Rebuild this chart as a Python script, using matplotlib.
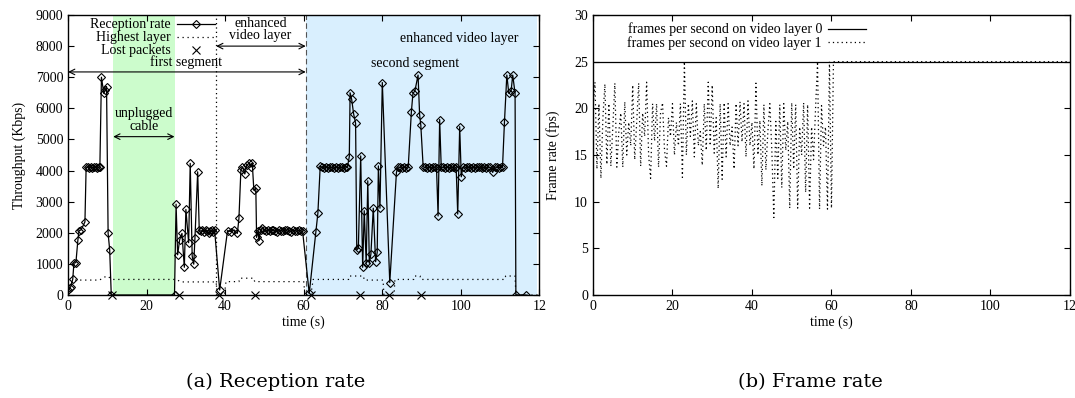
import matplotlib
matplotlib.use("Agg")
import matplotlib.pyplot as plt

plt.rcParams['font.family'] = ['Liberation Serif', 'DejaVu Serif']

# --- (a) reception rate data (Kbps) ---
rx_t = [0, 0.4, 0.7, 1.2, 1.5, 2.0, 2.5, 2.8, 3.3, 4.3,
        4.6, 5.0, 5.4, 5.8, 6.2, 6.6, 7.0, 7.4, 7.8, 8.1,
        8.5, 9.1, 9.5, 9.8, 10.2, 10.6, 11.0,
        27.1, 27.5, 27.9, 28.4, 29.0, 29.6, 30.0, 30.7, 31.1, 31.6, 32.0, 32.3, 33.0,
        33.4, 33.8, 34.2, 34.6, 35.0, 35.4, 35.8, 36.2, 36.6, 37.0, 37.3,
        38.6,
        40.6, 41.4, 42.3, 43.1, 43.5, 44.0, 44.4, 45.0, 45.5, 46.1, 46.5, 46.9, 47.3, 47.8, 48.0, 48.4, 48.6,
        49.0, 49.4, 49.8, 50.3, 50.8, 51.3, 51.8, 52.3, 52.8, 53.3, 53.8, 54.3, 54.8, 55.3, 55.8, 56.3,
        56.8, 57.3, 57.8, 58.3, 58.8, 59.3, 59.7,
        61.4,
        63.1, 63.6, 64.2,
        64.7, 65.2, 65.7, 66.2, 66.7, 67.2, 67.7, 68.2, 68.7, 69.2, 69.7, 70.2, 70.7, 71.1,
        71.6, 71.8, 72.2, 72.7, 73.2, 73.5, 73.9, 74.5, 75.0, 75.4, 75.9, 76.3, 76.7, 77.1, 77.7,
        78.3, 78.7, 79.0, 79.4, 80.0,
        81.9,
        83.6, 84.0, 84.5, 85.0, 85.5, 86.0, 86.6, 87.4, 87.8, 88.3, 89.1, 89.5, 89.8,
        90.4, 90.9, 91.4, 91.9, 92.4, 92.9, 93.4, 93.8, 94.2, 94.6,
        95.0, 95.5, 96.0, 96.5, 97.0, 97.5, 98.0, 98.5, 98.8, 99.2, 99.7, 100.1,
        100.5, 101.0, 101.5, 102.0, 102.5, 103.0, 103.5, 104.0, 104.5, 105.0, 105.5, 106.0, 106.5, 107.0, 107.5,
        108.1, 108.6, 109.1, 109.6, 110.1, 110.6,
        111.1, 111.7, 112.2, 112.8, 113.2, 113.8, 114.0, 116.5]
rx_v = [150, 220, 270, 510, 1030, 1040, 1760, 2070, 2090, 2350,
        4100, 4120, 4080, 4110, 4090, 4100, 4120, 4080, 4100, 4120,
        7000, 6480, 6600, 6700, 1980, 1450, 0,
        0, 2920, 1290, 1770, 1980, 890, 2750, 1680, 4230, 1250, 990, 1820, 3960,
        2090, 2050, 2080, 2040, 2090, 2050, 1980, 2060, 2080, 2040, 2100,
        160,
        2070, 2040, 2090, 1980, 2460, 4020, 4120, 3890, 4180, 4230, 4120, 4230, 3370, 3430, 1850, 2070, 1750,
        2080, 2150, 2100, 2060, 2090, 2050, 2080, 2100, 2060, 2040, 2090, 2070, 2050, 2080, 2100, 2060,
        2040, 2090, 2070, 2050, 2080, 2060, 2060,
        50,
        2040, 2630, 4150,
        4100, 4080, 4120, 4090, 4110, 4100, 4080, 4120, 4090, 4100, 4110, 4080, 4120, 4100,
        4450, 6500, 6290, 5820, 5520, 1450, 1500, 4470, 890, 2710, 1020, 3670, 1020, 1320, 2790,
        1070, 1370, 4150, 2790, 6830,
        400,
        3940, 4120, 4100, 4080, 4110, 4090, 4120, 5890, 6480, 6560, 7070, 5790, 5460,
        4120, 4100, 4080, 4110, 4090, 4100, 4120, 4080, 2540, 5640,
        4100, 4110, 4080, 4120, 4090, 4100, 4110, 4080, 4100, 2600, 5410, 3800,
        4100, 4080, 4110, 4120, 4090, 4100, 4080, 4110, 4100, 4120, 4090, 4100, 4080, 4110, 4100,
        3940, 4100, 4120, 4090, 4100, 4110,
        5570, 7070, 6480, 6570, 7070, 6480, 0, 0]

hl_t = [0, 1.5, 8.0, 9.8, 11.5, 27.5, 28.8, 37.7, 38.0, 39.8, 40.2, 43.5, 43.7, 47.3, 47.5,
        60.0, 60.3, 61.8, 62.4, 71.4, 71.6, 75.2, 75.4, 80.2, 80.4, 83.0, 83.2, 88.0, 88.2, 89.6,
        89.8, 111.2, 111.4, 113.8, 114.0, 120]
hl_v = [270, 480, 480, 610, 500, 500, 420, 420, 0, 0, 430, 430, 540, 540, 430,
        430, 0, 0, 500, 500, 610, 610, 480, 480, 0, 0, 500, 500, 610, 610,
        500, 500, 610, 610, 0, 0]

lost_t = [11.2, 28.2, 38.4, 47.6, 61.8, 74.4, 81.6, 89.9]
lost_v = [0, 0, 0, 0, 0, 0, 0, 0]

# --- (b) frame rate data (fps) ---
fps0_t = [0, 120]
fps0_v = [25, 25]
fps1_t = [0, 0.5, 1, 1.5, 2, 2.5, 3, 3.5, 4, 4.5,
          5, 5.5, 6, 6.5, 7, 7.5, 8, 8.5, 9, 9.5,
          10, 10.5, 11, 11.5, 12, 12.5, 13, 13.5, 14, 14.5,
          15, 15.5, 16, 16.5, 17, 17.5, 18, 18.5, 19, 19.5,
          20, 20.5, 21, 21.5, 22, 22.5, 23, 23.5, 24, 24.5,
          25, 25.5, 26, 26.5, 27, 27.5, 28, 28.5, 29, 29.5,
          30, 30.5, 31, 31.5, 32, 32.5, 33, 33.5, 34, 34.5,
          35, 35.5, 36, 36.5, 37, 37.5, 38, 38.5, 39, 39.5,
          40, 40.5, 41, 41.5, 42, 42.5, 43, 43.5, 44, 44.5,
          45, 45.5, 46, 46.5, 47, 47.5, 48, 48.5, 49, 49.5,
          50, 50.5, 51, 51.5, 52, 52.5, 53, 53.5, 54, 54.5,
          55, 55.5, 56, 56.5, 57, 57.5, 58, 58.5, 59, 59.5,
          60, 60.5, 120]
fps1_v = [20, 22.8, 13.5, 20.5, 12.5, 19, 22.6, 14, 20.5, 13.8,
          18, 22.7, 13.7, 17.5, 19.5, 13.7, 20.7, 15, 18.5, 16,
          22.5, 14.5, 18.5, 22.7, 13.8, 19.5, 17, 22.8, 15, 12.5,
          20.5, 16.5, 20.5, 13.7, 19.5, 20.6, 15.5, 13.8, 19, 17,
          20.5, 15, 18.5, 16, 20.5, 12.6, 25, 15, 20.5, 17,
          20.8, 14.8, 20.5, 16, 17.5, 13.9, 20.5, 15.5, 22.8, 16,
          22.5, 15.2, 19, 11.4, 20.5, 12.4, 20.6, 14.8, 20.5, 16,
          18, 13.5, 20.5, 16, 20.7, 16.4, 20.5, 14.8, 20.8, 16,
          18.5, 13.5, 22.7, 15, 18.7, 11.7, 20.4, 13.4, 17.5, 20.5,
          15.5, 8.3, 18.6, 12.5, 20.4, 11.5, 20.5, 15.5, 18.6, 9.3,
          20.6, 13.5, 20.4, 9.3, 18, 15, 20.6, 11, 20.4, 9.3,
          18, 14.5, 20, 25, 9.2, 20.3, 16, 18, 9.2, 25,
          9.3, 25, 25]

xticks = [0, 20, 40, 60, 80, 100, 120]
xticklabels = ['0', '20', '40', '60', '80', '100', '12']

FS = 10

fig = plt.figure(figsize=(10.75, 3.98), dpi=100)
ax1 = fig.add_axes([0.0633, 0.2588, 0.4385, 0.7035])
ax2 = fig.add_axes([0.5516, 0.2588, 0.4437, 0.7035])

for ax in (ax1, ax2):
    ax.set_xlim(0, 120)
    ax.set_xticks(xticks)
    ax.set_xticklabels(xticklabels)
    ax.tick_params(direction='in', length=4.5, width=0.8, top=True, right=True,
                   labelsize=FS, pad=3.5)
    for s in ax.spines.values():
        s.set_linewidth(1.0)
    ax.set_xlabel('time (s)', fontsize=FS, labelpad=2)

# (a)
ax1.set_ylim(0, 9000)
ax1.set_yticks(range(0, 9001, 1000))
ax1.axvspan(11.5, 27.1, color='#ccfccc', lw=0, zorder=0)
ax1.axvspan(60.5, 119.4, color='#d9effe', lw=0, zorder=0)
ax1.axvline(37.7, color='black', ls=(0, (1, 2.5)), lw=0.9)
ax1.axvline(60.5, color='#555555', ls=(0, (5, 3)), lw=0.8)
ax1.plot(rx_t, rx_v, color='black', lw=0.9, marker='D', ms=4.3, mfc='none',
         mew=0.8, label='Reception rate')
ax1.plot(hl_t, hl_v, color='black', lw=0.9, ls=(0, (1, 3)), label='Highest layer')
ax1.plot(lost_t, lost_v, ls='none', marker='x', ms=5.5, mew=0.8, color='black',
         label='Lost packets', clip_on=False)
ax1.set_ylabel('Throughput (Kbps)', fontsize=FS, labelpad=7)
ax1.legend(loc='upper left', bbox_to_anchor=(0.04, 1.0), markerfirst=False,
           frameon=False, fontsize=FS, handlelength=2.8, handletextpad=0.4,
           labelspacing=0.0, borderpad=0.25, borderaxespad=0.0)

arrow = dict(arrowstyle='<->', color='black', lw=0.8, shrinkA=0, shrinkB=0)
ax1.annotate('', xy=(0, 7170), xytext=(60.5, 7170), arrowprops=arrow)
ax1.text(30, 7250, 'first segment', ha='center', va='bottom', fontsize=FS)
ax1.annotate('', xy=(37.7, 8000), xytext=(60.5, 8000), arrowprops=arrow)
ax1.text(49, 8130, 'enhanced\nvideo layer', ha='center', va='bottom', fontsize=FS,
         linespacing=0.95)
ax1.annotate('', xy=(11.5, 5090), xytext=(27.1, 5090), arrowprops=arrow)
ax1.text(19.3, 5220, 'unplugged\ncable', ha='center', va='bottom', fontsize=FS,
         linespacing=0.95)
ax1.text(88.3, 7430, 'second segment', ha='center', va='center', fontsize=FS)
ax1.text(99.5, 8260, 'enhanced video layer', ha='center', va='center', fontsize=FS)

# (b)
ax2.set_ylim(0, 30)
ax2.set_yticks(range(0, 31, 5))
ax2.plot(fps0_t, fps0_v, color='black', lw=0.9,
         label='frames per second on video layer 0')
ax2.plot(fps1_t, fps1_v, color='black', lw=0.9, ls=(0, (1, 2.5)),
         label='frames per second on video layer 1')
ax2.set_ylabel('Frame rate (fps)', fontsize=FS, labelpad=10)
ax2.legend(loc='upper left', bbox_to_anchor=(0.065, 0.985), markerfirst=False,
           frameon=False, fontsize=FS, handlelength=2.8, handletextpad=0.4,
           labelspacing=0.0, borderpad=0.25, borderaxespad=0.0)

fig.text(0.256, 0.04, '(a) Reception rate', ha='center', va='center', fontsize=14,
         family='DejaVu Serif')
fig.text(0.754, 0.04, '(b) Frame rate', ha='center', va='center', fontsize=14,
         family='DejaVu Serif')

fig.savefig('out.png', dpi=100)
